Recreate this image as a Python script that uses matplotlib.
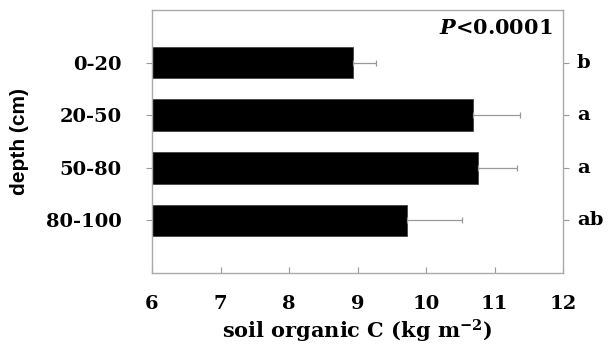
import matplotlib
matplotlib.use("Agg")
import matplotlib.pyplot as plt

plt.rcParams["mathtext.fontset"] = "dejavuserif"

depths = ["0-20", "20-50", "50-80", "80-100"]
soc = [8.93, 10.69, 10.76, 9.72]
err = [0.34, 0.68, 0.57, 0.81]
letters = ["b", "a", "a", "ab"]
xticks = [6, 7, 8, 9, 10, 11, 12]

serif = ["DejaVu Serif"]
fs = 14
fig = plt.figure(figsize=(6.11, 3.44), dpi=100)
ax = fig.add_axes([152/611, 1-273/344, (563-152)/611, (273-10)/344])
pos = list(range(1, len(depths)+1))
ax.barh(pos, [v - 6 for v in soc], left=6, height=0.6, color="black", edgecolor="#444444", linewidth=0.6)
ax.errorbar(soc, pos, xerr=[[0]*len(err), err], fmt="none", ecolor="#999999", elinewidth=0.9, capsize=2.5, capthick=0.9)
ax.set_xlim(6, 12)
ax.set_ylim(5, 0)
ax.set_xticks(xticks)
ax.set_xticklabels([str(t) for t in xticks], family=serif, fontweight="bold", fontsize=fs)
ax.set_yticks(pos)
ax.set_yticklabels(depths, family=serif, fontweight="bold", fontsize=fs)
ax.tick_params(axis="x", direction="in", length=4, color="#999999", pad=16)
ax.tick_params(axis="y", direction="out", length=4, color="#999999", pad=18, right=True)
for s in ax.spines.values():
    s.set_color("#aaaaaa")
    s.set_linewidth(1.0)
for p, l in zip(pos, letters):
    ax.text(1.034, 1 - p/5, l, transform=ax.transAxes, family=serif, fontweight="bold",
            fontsize=fs, va="center", ha="left")
ax.text(0.975, 0.93, r"$\boldsymbol{P}$<0.0001", transform=ax.transAxes, ha="right", va="center",
        family=serif, fontweight="bold", fontsize=15)
ax.set_xlabel(r"soil organic C (kg m$^{\mathbf{-2}}$)", family=serif, fontweight="bold", fontsize=15, labelpad=3)
ax.set_ylabel("depth (cm)", family=["Liberation Sans Narrow", "Liberation Sans"], fontweight="bold", fontsize=15, labelpad=12)
fig.savefig("out.png", dpi=100)
